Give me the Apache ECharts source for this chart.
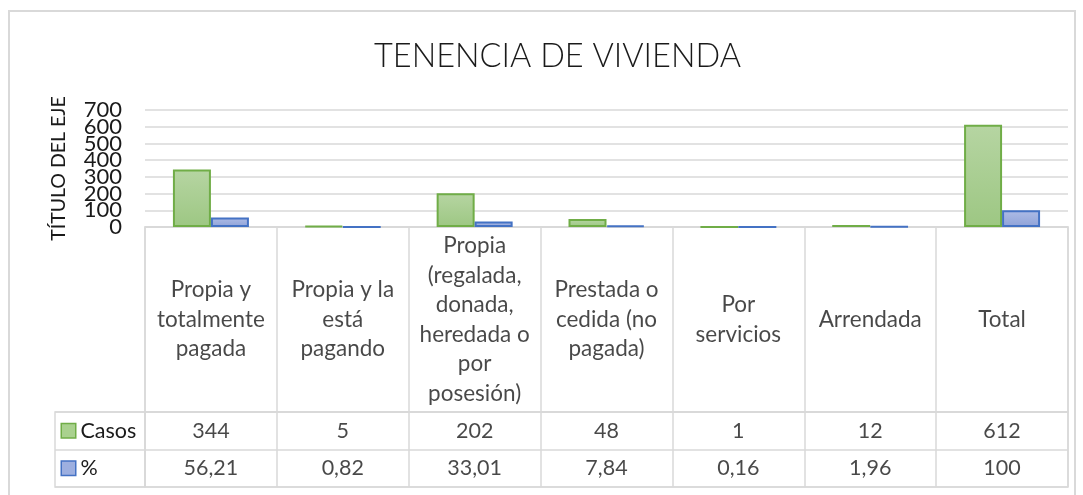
<!DOCTYPE html>
<html>
<head>
<meta charset="utf-8">
<script src="https://cdn.jsdelivr.net/npm/echarts@6/dist/echarts.min.js"></script>
<style>
  html, body { margin: 0; padding: 0; background: #fff; }
  #chart { width: 1083px; height: 495px; }
</style>
</head>
<body>
<div id="chart"></div>
<script>
// categories (line breaks as they wrap in the original data table)
const categories = [
  'Propia y\ntotalmente\npagada',
  'Propia y la\nestá\npagando',
  'Propia\n(regalada,\ndonada,\nheredada o\npor\nposesión)',
  'Prestada o\ncedida (no\npagada)',
  'Por\nservicios',
  'Arrendada',
  'Total'
];
const casos = [344, 5, 202, 48, 1, 12, 612];
const porcentaje = [56.21, 0.82, 33.01, 7.84, 0.16, 1.96, 100];
const rowNames = ['Casos', '%'];
const yTickLabels = ['0', '100', '200', '300', '400', '500', '600', '700'];

const GRID_LINE = '#d9d9d9';
const TEXT = '#1a1a1a';
const FONT = 'Lato';

const fmt = v => String(v).replace('.', ',');

const chart = echarts.init(document.getElementById('chart'));

const grad = (top, bottom) =>
  new echarts.graphic.LinearGradient(0, 0, 0, 1, [
    { offset: 0, color: top },
    { offset: 1, color: bottom }
  ]);

const option = {
  animation: false,
  textStyle: { fontFamily: FONT },
  title: {
    text: 'TENENCIA DE VIVIENDA',
    left: 369,
    top: 35,
    textStyle: { fontFamily: FONT, fontWeight: 300, fontSize: 32.5, color: TEXT }
  },
  graphic: [
    {
      type: 'rect',
      shape: { x: 9, y: 11, width: 1066, height: 520 },
      style: { fill: 'none', stroke: GRID_LINE, lineWidth: 2 },
      silent: true
    }
  ],
  grid: [
    { left: 145, right: 15, top: 110, height: 117 },
    { left: 145, right: 15, top: 227, height: 185, show: true, borderColor: GRID_LINE, borderWidth: 1.5 },
    { left: 145, right: 15, top: 412, height: 75, show: true, borderColor: GRID_LINE, borderWidth: 1.5 },
    { left: 55, width: 90, top: 412, height: 75, show: true, borderColor: GRID_LINE, borderWidth: 1.5 }
  ],
  xAxis: [
    {
      gridIndex: 0,
      type: 'category',
      data: categories,
      axisLine: { lineStyle: { color: GRID_LINE, width: 1.5 } },
      axisTick: { show: false },
      axisLabel: { show: false }
    },
    {
      gridIndex: 1,
      type: 'category',
      data: categories,
      axisLine: { show: false },
      axisTick: { show: false },
      axisLabel: { show: false },
      splitLine: { show: true, interval: 0, lineStyle: { color: GRID_LINE, width: 1.5 } }
    },
    {
      gridIndex: 2,
      type: 'category',
      data: categories,
      axisLine: { show: false },
      axisTick: { show: false },
      axisLabel: { show: false },
      splitLine: { show: true, interval: 0, lineStyle: { color: GRID_LINE, width: 1.5 } }
    },
    {
      gridIndex: 3,
      type: 'value',
      min: 0,
      max: 1,
      show: false
    }
  ],
  yAxis: [
    {
      gridIndex: 0,
      type: 'value',
      position: 'left',
      min: 0,
      max: 700,
      interval: 100,
      name: 'TÍTULO DEL EJE',
      nameLocation: 'middle',
      nameRotate: 90,
      nameGap: 76,
      nameTextStyle: { fontFamily: FONT, fontSize: 19.5, color: TEXT },
      axisLine: { show: false },
      axisTick: { show: false },
      axisLabel: { show: false },
      splitLine: { lineStyle: { color: GRID_LINE, width: 1.5 } }
    },
    {
      gridIndex: 1,
      type: 'value',
      min: 0,
      max: 1,
      show: false
    },
    {
      gridIndex: 2,
      type: 'category',
      inverse: true,
      data: rowNames,
      axisLine: { show: false },
      axisTick: { show: false },
      axisLabel: { show: false },
      splitLine: { show: true, interval: 0, lineStyle: { color: GRID_LINE, width: 1.5 } }
    },
    {
      gridIndex: 3,
      type: 'category',
      inverse: true,
      data: rowNames,
      axisLine: { show: false },
      axisTick: { show: false },
      splitLine: { show: true, interval: 0, lineStyle: { color: GRID_LINE, width: 1.5 } },
      axisLabel: {
        inside: true,
        margin: 7,
        align: 'left',
        formatter: v => (v === 'Casos' ? '{g|}' : '{b|}') + '{t| ' + v + '}',
        rich: {
          g: { width: 13, height: 13, backgroundColor: '#a9d18e', borderColor: '#70ad47', borderWidth: 1.5 },
          b: { width: 13, height: 13, backgroundColor: '#9dafe0', borderColor: '#4472c4', borderWidth: 1.5 },
          t: { fontFamily: FONT, fontSize: 21.5, color: TEXT }
        }
      }
    },
    {
      // tick labels of the value axis, shown all at once (Excel lets them overlap)
      gridIndex: 0,
      type: 'category',
      position: 'left',
      data: yTickLabels,
      boundaryGap: false,
      axisLine: { show: false },
      axisTick: { show: false },
      splitLine: { show: false },
      axisLabel: { interval: 0, margin: 23, fontFamily: FONT, fontSize: 22, color: TEXT }
    }
  ],
  series: [
    {
      name: 'Casos',
      type: 'bar',
      xAxisIndex: 0,
      yAxisIndex: 0,
      data: casos,
      barWidth: 38,
      barGap: '0%',
      itemStyle: { color: grad('#b6d5a2', '#9dc783'), borderColor: '#70ad47', borderWidth: 2 }
    },
    {
      name: '%',
      type: 'bar',
      xAxisIndex: 0,
      yAxisIndex: 0,
      data: porcentaje,
      barWidth: 38,
      barGap: '0%',
      itemStyle: { color: grad('#aebce6', '#8fa2d8'), borderColor: '#4472c4', borderWidth: 2 }
    },
    {
      type: 'scatter',
      xAxisIndex: 1,
      yAxisIndex: 1,
      silent: true,
      symbolSize: 1,
      itemStyle: { color: 'rgba(0,0,0,0)' },
      data: categories.map((c, i) => [i, 0.5]),
      label: {
        show: true,
        position: 'inside',
        formatter: p => categories[p.dataIndex],
        fontFamily: FONT,
        fontSize: 22.5,
        lineHeight: 29.5,
        color: TEXT,
        align: 'center'
      }
    },
    {
      type: 'scatter',
      xAxisIndex: 2,
      yAxisIndex: 2,
      silent: true,
      symbolSize: 1,
      itemStyle: { color: 'rgba(0,0,0,0)' },
      data: casos.map((v, i) => [i, 'Casos', v]).concat(porcentaje.map((v, i) => [i, '%', v])),
      label: {
        show: true,
        position: 'inside',
        formatter: p => fmt(p.value[2]),
        fontFamily: FONT,
        fontSize: 21.5,
        color: TEXT
      }
    }
  ]
};

chart.setOption(option);
window.addEventListener('resize', () => chart.resize());
</script>
</body>
</html>
